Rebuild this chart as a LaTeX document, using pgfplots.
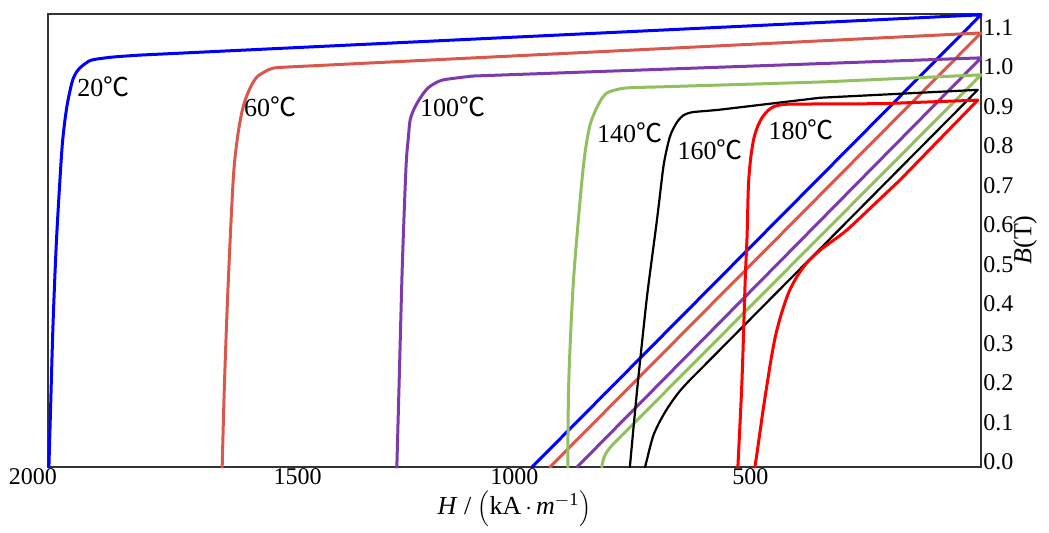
\documentclass[border=0pt]{standalone}
\usepackage{fontspec}
\setmainfont{Liberation Serif}
\newfontfamily\degfont{Noto Sans CJK SC}
\usepackage{pgfplots}
\pgfplotsset{compat=1.18}
\definecolor{cA}{RGB}{0,0,255}
\definecolor{cB}{RGB}{217,88,75}
\definecolor{cC}{RGB}{126,58,170}
\definecolor{cD}{RGB}{146,192,96}
\definecolor{cE}{RGB}{0,0,0}
\definecolor{cF}{RGB}{255,0,0}
\newcommand{\dc}{{\degfont ℃}}
\begin{document}
\begin{tikzpicture}
\useasboundingbox (-24pt,-32.5pt) rectangle (500.5pt,233.5pt);
\begin{axis}[
  at={(0,0)}, anchor=south west,
  scale only axis, width=466.5pt, height=226.5pt,
  x dir=reverse, xmin=-15, xmax=2015, ymin=-0.0127, ymax=1.134,
  axis line style={draw=black!80, line width=0.65pt},
  xtick={2000,1500,1000,500},
  xticklabels={\hspace*{-22pt}2000,\hspace*{13pt}1500,1000,\hspace*{6pt}500},
  ytick={0,0.1,0.2,0.3,0.4,0.5,0.6,0.7,0.8,0.9,1.0,1.1},
  yticklabels={0.0,0.1,0.2,0.3,0.4,0.5,0.6,0.7,0.8,0.9,1.0,1.1},
  major tick length=0pt,
  xticklabel pos=bottom, yticklabel pos=right,
  tick label style={font=\fontsize{12}{14}\selectfont},
  yticklabel style={anchor=west, inner xsep=0pt, xshift=1pt},
  xticklabel style={yshift=1.5pt, inner ysep=2pt},
  clip=false,
  every axis plot/.append style={line join=round, line cap=round},
]
% 20 C
\addplot[cA, line width=1.5pt, smooth, tension=0.5] coordinates {
(2013,-0.013) (2009,0.15) (2004,0.35) (1997,0.55) (1989,0.714) (1983,0.815)
(1974,0.899) (1963,0.960) (1955,0.983) (1946,0.997) (1932,1.010) (1918,1.018)
(1874,1.025) (1815,1.030)};
\addplot[cA, line width=1.5pt] coordinates {(1815,1.030) (-15,1.132) (962,-0.013)};
% 60 C
\addplot[cB, line width=1.5pt, smooth, tension=0.5] coordinates {
(1636,-0.013) (1631,0.2) (1623,0.45) (1612,0.714) (1604,0.81) (1595,0.875)
(1586,0.916) (1573,0.952) (1560,0.975) (1543,0.988) (1525,0.997) (1490,1.0)};
\addplot[cB, line width=1.5pt] coordinates {(1490,1.0) (-15,1.086) (923,-0.013)};
% 100 C
\addplot[cC, line width=1.5pt, smooth, tension=0.5] coordinates {
(1256,-0.013) (1251,0.2) (1244,0.5) (1236,0.747) (1231,0.82) (1227,0.866)
(1218,0.895) (1208,0.916) (1197,0.935) (1186,0.949) (1171,0.96) (1156,0.967)
(1120,0.973) (1090,0.977)};
\addplot[cC, line width=1.5pt] coordinates {(1090,0.977) (-15,1.023) (864,-0.013)};
% 140 C
\addplot[cD, line width=1.5pt, smooth, tension=0.5] coordinates {
(884,-0.013) (882,0.2) (873,0.435) (862,0.6) (851,0.739) (843,0.81) (834,0.86)
(820,0.899) (810,0.920) (799,0.934) (780,0.942) (755,0.947) (700,0.949)};
\addplot[cD, line width=1.5pt] coordinates {(700,0.949) (331,0.962) (-15,0.980) (770,0.063)};
\addplot[cD, line width=1.5pt, smooth, tension=0.5] coordinates {
(770,0.063) (788,0.042) (801,0.022) (807,0.005) (810,-0.013)};
% 160 C
\addplot[cE, line width=1.1pt, smooth, tension=0.5] coordinates {
(749,-0.013) (740,0.1) (731,0.208) (720,0.33) (710,0.435) (690,0.613)
(677,0.739) (670,0.785) (662,0.823) (654,0.845) (644,0.864) (632,0.878)
(615,0.885) (590,0.888) (559,0.891)};
\addplot[cE, line width=1.1pt] coordinates {(559,0.891) (335,0.922) (-8,0.942) (600,0.229)};
\addplot[cE, line width=1.1pt, smooth, tension=0.5] coordinates {
(600,0.229) (618,0.208) (640,0.18) (658,0.152) (672,0.127) (685,0.100)
(697,0.07) (705,0.038) (711,0.01) (716,-0.013)};
% 180 C
\addplot[cF, line width=1.5pt, smooth, tension=0.5] coordinates {
(514,-0.013) (505,0.208) (498,0.461) (494,0.570) (491,0.700) (486,0.770)
(479,0.820) (470,0.852) (460,0.874) (448,0.890) (435,0.900) (415,0.905)
(390,0.906)};
\addplot[cF, line width=1.5pt] coordinates {(390,0.906) (200,0.907) (-8,0.916) (161,0.714) (230,0.638)};
\addplot[cF, line width=1.5pt, smooth, tension=0.5] coordinates {
(230,0.638) (277,0.587) (305,0.562) (333,0.538) (364,0.504) (386,0.468)
(403,0.430) (418,0.380) (431,0.325) (441,0.265) (450,0.200) (458,0.14)
(466,0.075) (472,0.025) (477,-0.013)};
% curve labels
\begin{scope}[every node/.style={anchor=west, inner sep=0pt, font=\fontsize{13}{15}\selectfont}]
\node at (axis cs:1952,0.949) {20\dc};
\node at (axis cs:1589,0.899) {60\dc};
\node at (axis cs:1206,0.899) {100\dc};
\node at (axis cs:821,0.833) {140\dc};
\node at (axis cs:646,0.790) {160\dc};
\node at (axis cs:448,0.841) {180\dc};
\end{scope}
% axis labels
\node[rotate=90, font=\fontsize{13}{15}\selectfont] at (axis cs:-111,0.562) {\textit{B}(T)};
\node[inner sep=0pt, font=\fontsize{13}{15}\selectfont] at (axis cs:1000,-0.117)
  {\textit{H} / $\Bigl($kA$\,\cdot\,$\textit{m}\textsuperscript{$-$1}$\Bigr)$};
\end{axis}
\end{tikzpicture}
\end{document}
